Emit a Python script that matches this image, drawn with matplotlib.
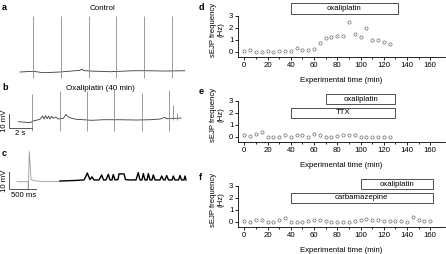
import numpy as np
import matplotlib
matplotlib.use("Agg")
import matplotlib.pyplot as plt
from matplotlib.patches import Rectangle

plt.rcParams['font.family'] = ['Liberation Sans', 'DejaVu Sans']
plt.rcParams['font.size'] = 5.6

# ---------------- data ----------------
# panel a (Control): time in s, membrane potential in mV
a_spike_t = [1.30, 3.74, 6.17, 8.52, 10.96, 13.39]
a_spike_top = 40.0
a_spike_bottom = -4.3
a_base_t = [0.17, 1.33, 2.2, 3.65, 5.39, 5.54, 5.7, 6.26, 8.0, 10.0, 11.2, 12.9, 14.5]
a_base_v = [0.0, 0.5, -0.5, 0.0, 1.2, 2.1, 1.0, 0.7, 0.2, 0.9, 0.9, 0.7, 0.9]

# panel b (Oxaliplatin 40 min)
b_spike_t = [1.24, 3.65, 6.03, 8.37, 10.76, 13.13, 13.5, 13.8]
b_spike_top = [19.8, 21.6, 21.6, 23.6, 20.5, 22.9, 12.0, 6.4]
b_spike_bottom = [-6.9, -6.9, -6.9, -6.9, -6.9, -6.9, 1.5, 1.5]
b_base_t = [0.03, 1.04, 1.33, 1.91, 2.14, 2.26, 2.4, 2.52, 2.67, 2.78, 2.93, 3.07,
            3.3, 3.5, 3.94, 4.17, 4.38, 4.67, 5.1, 5.68, 6.41, 7.42, 8.87, 10.3,
            11.5, 12.35, 12.78, 12.9, 14.2]
b_base_v = [0.0, -0.7, 0.5, 1.7, 4.0, 1.9, 4.3, 2.1, 4.0, 1.9, 3.8, 2.4,
            3.3, 1.9, 2.4, 5.2, 3.3, 2.4, 1.7, 1.4, 1.0, 1.4, 1.4, 1.2,
            1.4, 1.9, 3.1, 2.1, 2.6]

# panel c: time in ms, mV
c_gray_t = [0, 204, 209, 228, 259, 302, 487, 796]
c_gray_v = [0.0, 0.0, -4.7, 17.0, 1.4, 0.6, 0.1, 0.1]
c_black_t = [796, 1074, 1241, 1278, 1302, 1324, 1352, 1389, 1426, 1519, 1569, 1602,
             1648, 1691, 1722, 1759, 1783, 1815, 1871, 1889, 1982, 2009, 2093, 2204,
             2246, 2278, 2315, 2339, 2370, 2408, 2432, 2463, 2500, 2524, 2556, 2648,
             2680, 2713, 2741, 2772, 2806, 2871, 2895, 2926, 2991, 3019, 3047, 3093,
             3111, 3130]
c_black_v = [0.4, 0.7, 1.0, 3.2, 4.9, 3.2, 1.2, 2.7, 1.0, 1.0, 3.8, 1.0,
             1.0, 4.2, 1.0, 1.0, 4.1, 1.0, 1.2, 4.4, 4.4, 1.2, 1.0, 1.0,
             5.1, 1.0, 1.0, 4.6, 1.0, 1.0, 4.6, 1.0, 1.0, 3.8, 1.0, 1.0,
             3.2, 1.0, 1.0, 3.5, 1.0, 1.0, 3.2, 1.0, 1.0, 3.5, 1.0, 1.0,
             3.2, 1.0]

# scale bars
b_bar_mv = 10
b_bar_s = 2
c_bar_mv = 10
c_bar_ms = 500

# right panels: sEJP frequency (Hz) vs experimental time (min)
d_time = [0, 5, 10, 15, 20, 25, 30, 35, 40, 45, 50, 55, 60, 65, 70, 75, 80, 85,
          90, 95, 100, 105, 110, 115, 120, 125]
d_freq = [0.05, 0.1, 0, 0, 0.03, 0, 0.03, 0.03, 0.03, 0.3, 0.15, 0.1, 0.2, 0.7,
          1.1, 1.2, 1.3, 1.3, 2.5, 1.5, 1.2, 2.0, 1.0, 0.95, 0.8, 0.6]
e_time = d_time
e_freq = [0.1, 0.05, 0.2, 0.4, 0, 0, 0, 0.1, 0, 0.1, 0.1, 0, 0.25, 0.15,
          0, 0, 0.05, 0.1, 0.1, 0.1, 0, 0, 0, 0, 0, 0]
f_time = [0, 5, 10, 15, 20, 25, 30, 35, 40, 45, 50, 55, 60, 65, 70, 75, 80, 85,
          90, 95, 100, 105, 110, 115, 120, 125, 130, 135, 140, 145, 150, 155, 160]
f_freq = [0.05, 0, 0.1, 0.1, 0, 0, 0.1, 0.3, 0, 0, 0, 0.05, 0.1, 0.1, 0.05, 0, 0,
          0, 0, 0.05, 0.1, 0.2, 0.1, 0.1, 0.08, 0.08, 0.05, 0.05, 0, 0.4, 0.15,
          0.05, 0.05]

# treatment bars: (label, start min, end min)
d_treat = [("oxaliplatin", 40, 132)]
e_treat = [("oxaliplatin", 70, 130), ("TTX", 40, 130)]
f_treat = [("oxaliplatin", 100, 162), ("carbamazepine", 40, 162)]

x_ticks = [0, 20, 40, 60, 80, 100, 120, 140, 160]
y_ticks = [0, 1, 2, 3]

# ---------------- layout ----------------
W, H = 446, 254
fig = plt.figure(figsize=(W / 100, H / 100), dpi=100)


def add_ax(x0, y0, x1, y1):
    return fig.add_axes([x0 / W, 1 - y1 / H, (x1 - x0) / W, (y1 - y0) / H])


def ftext(px, py, s, **kw):
    fig.text(px / W, 1 - py / H, s, **kw)


TRACE = '#3a3a3a'
SPIKE = '#8a8a8a'

# panel a
ax_a = add_ax(0, 10, 190, 82)
ax_a.set_xlim(-1.565, 14.96)
ax_a.set_ylim(-7.14, 44.3)
ax_a.axis('off')
ax_a.plot(a_base_t, a_base_v, color=TRACE, lw=0.6)
ax_a.vlines(a_spike_t, a_spike_bottom, a_spike_top, color=SPIKE, lw=0.6)

# panel b
ax_b = add_ax(0, 88, 190, 135)
ax_b.set_xlim(-1.565, 14.96)
ax_b.set_ylim(-9.5, 24.07)
ax_b.axis('off')
ax_b.plot(b_base_t, b_base_v, color=TRACE, lw=0.6)
ax_b.vlines(b_spike_t, b_spike_bottom, b_spike_top, color=SPIKE, lw=0.6)
bx0, by0 = -0.78, -4.5
ax_b.plot([bx0, bx0, bx0 + b_bar_s], [by0 + b_bar_mv, by0, by0], color='#555555', lw=0.7,
          solid_joinstyle='miter')
ax_b.text(bx0 - 0.42, by0 + b_bar_mv / 2, f"{b_bar_mv} mV", rotation=90,
          ha='center', va='center', fontsize=5.6)
ax_b.text(bx0 + b_bar_s / 2, by0 - 1.2, f"{b_bar_s} s", ha='center', va='top', fontsize=5.6)

# panel c
ax_c = add_ax(0, 148, 190, 200)
ax_c.set_xlim(-315, 3204)
ax_c.set_ylim(-10.3, 19.0)
ax_c.axis('off')
ax_c.plot(c_gray_t, c_gray_v, color='#9a9a9a', lw=0.6)
ax_c.plot(c_black_t, c_black_v, color='black', lw=1.0)
cx0, cy0 = -148, -4.3
ax_c.plot([cx0, cx0, cx0 + c_bar_ms], [cy0 + c_bar_mv, cy0, cy0], color='#555555', lw=0.7,
          solid_joinstyle='miter')
ax_c.text(cx0 - 80, cy0 + c_bar_mv / 2, f"{c_bar_mv} mV", rotation=90,
          ha='center', va='center', fontsize=5.6)
ax_c.text(cx0 + 40, cy0 - 1.5, f"{c_bar_ms} ms", ha='left', va='top', fontsize=5.6)

# left titles and panel letters
ftext(103, 8, "Control", ha='center', va='center', fontsize=5.8)
ftext(100, 89, "Oxaliplatin (40 min)", ha='center', va='center', fontsize=5.8)
for lab, py in [("a", 7), ("b", 88), ("c", 153)]:
    ftext(2, py, lab, ha='left', va='center', fontsize=6.5, fontweight='bold')


def freq_panel(y_off, t, f, treats, letter):
    ax = add_ax(238.3, 2 + y_off, 445, 57.3 + y_off)
    ax.set_xlim(-5.16, 172.7)
    ax.set_ylim(-0.47, 4.14)
    for s in ['top', 'right']:
        ax.spines[s].set_visible(False)
    for s in ['left', 'bottom']:
        ax.spines[s].set_linewidth(0.6)
    ax.spines['left'].set_bounds(-0.47, 3)
    ax.set_xticks(x_ticks)
    ax.set_xticks([v + 10 for v in x_ticks[:-1]], minor=True)
    ax.set_yticks(y_ticks)
    ax.tick_params(axis='both', which='both', direction='out', width=0.6, length=2,
                   pad=1.5, labelsize=5.6)
    ax.tick_params(axis='x', which='minor', length=1.5)
    ax.plot(t, f, linestyle='none', marker='o', markersize=2.3, mfc='white',
            mec='#6a6a6a', mew=0.5, clip_on=False)
    if len(treats) == 1:
        rows = [(3.1, 4.05)]
    else:
        rows = [(2.72, 3.55), (1.55, 2.43)]
    for (lab, t0, t1), (y0, y1) in zip(treats, rows):
        ax.add_patch(Rectangle((t0, y0), t1 - t0, y1 - y0, facecolor='white',
                               edgecolor='#333333', lw=0.6))
        ax.text((t0 + t1) / 2, (y0 + y1) / 2, lab, ha='center', va='center', fontsize=5.6)
    ax.set_xlabel("Experimental time (min)", fontsize=5.6, labelpad=5.5)
    ax.set_ylabel("sEJP frequency\n(Hz)", fontsize=5.6, labelpad=3, linespacing=1.1)
    ftext(199, 7 + y_off, letter, ha='left', va='center', fontsize=6.5, fontweight='bold')
    return ax


freq_panel(0, d_time, d_freq, d_treat, "d")
freq_panel(85, e_time, e_freq, e_treat, "e")
freq_panel(170, f_time, f_freq, f_treat, "f")

fig.savefig("out.png", dpi=100)
